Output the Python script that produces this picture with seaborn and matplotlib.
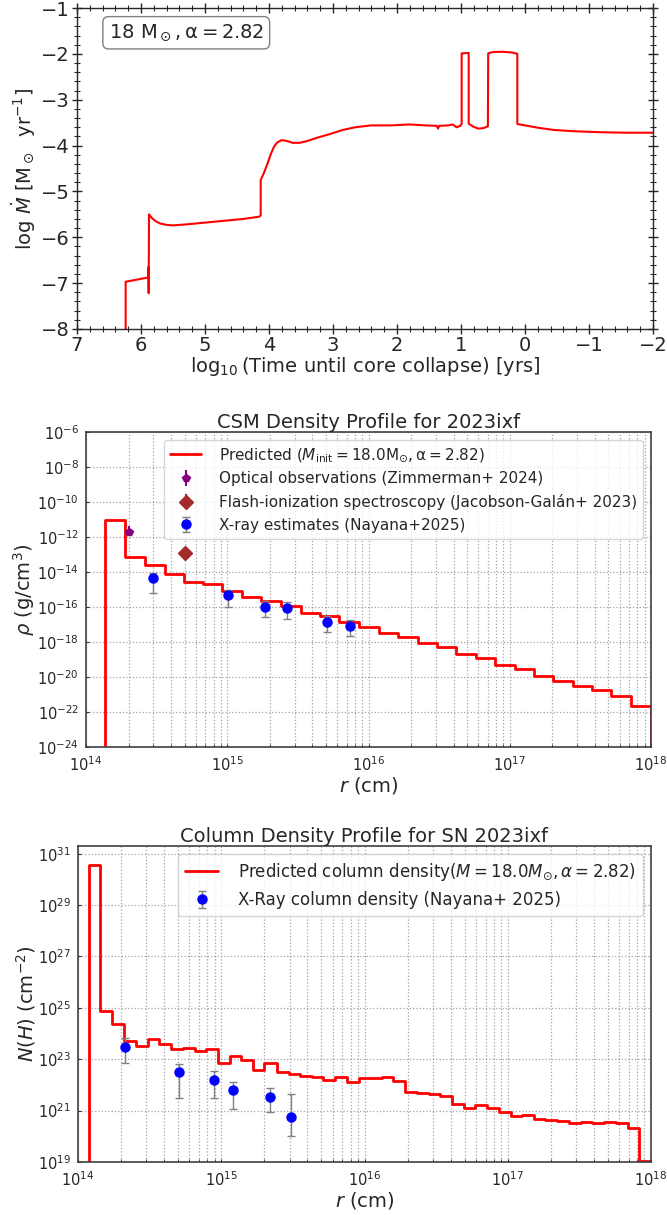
import numpy as np
import pandas as pd
import matplotlib
matplotlib.use("Agg")
import matplotlib.pyplot as plt
import seaborn as sns
from matplotlib.ticker import MultipleLocator, LogLocator, NullLocator, NullFormatter

# ---------------- data: panel 1 (mass-loss history) ----------------
log_t = [6.24, 6.24, 5.90, 5.89, 5.885, 5.88, 5.875, 5.83, 5.77, 5.70, 5.60, 5.50, 5.30,
         5.00, 4.70, 4.40, 4.15, 4.13, 4.13, 4.08, 4.02, 3.97, 3.92, 3.87, 3.80, 3.72,
         3.63, 3.52, 3.40, 3.25, 3.05, 2.85, 2.65, 2.40, 2.10, 1.80, 1.55, 1.38, 1.36,
         1.34, 1.20, 1.13, 1.07, 1.01, 0.99, 0.99, 0.88, 0.88, 0.82, 0.73, 0.65, 0.58,
         0.575, 0.50, 0.35, 0.20, 0.12, 0.12, 0.00, -0.20, -0.45, -0.80, -1.20, -1.60, -2.00]
log_mdot = [-8.5, -6.97, -6.88, -6.88, -6.65, -7.22, -5.50, -5.58, -5.65, -5.70, -5.73, -5.74, -5.72,
            -5.68, -5.64, -5.60, -5.55, -5.52, -4.75, -4.60, -4.38, -4.18, -4.02, -3.93, -3.88, -3.90,
            -3.94, -3.94, -3.90, -3.83, -3.75, -3.66, -3.60, -3.56, -3.56, -3.54, -3.56, -3.57, -3.63,
            -3.57, -3.56, -3.54, -3.60, -3.57, -3.53, -1.99, -1.98, -3.52, -3.58, -3.63, -3.62, -3.58,
            -1.99, -1.96, -1.955, -1.97, -2.00, -3.53, -3.56, -3.61, -3.66, -3.69, -3.71, -3.72, -3.72]

# ---------------- data: panel 2 (CSM density) ----------------
log_r_edges_csm = [14.136, 14.277, 14.419, 14.558, 14.693, 14.829, 14.965, 15.106, 15.242,
                   15.384, 15.519, 15.655, 15.791, 15.935, 16.071, 16.206, 16.348, 16.484,
                   16.620, 16.758, 16.894, 17.035, 17.171, 17.307, 17.448, 17.584, 17.720,
                   17.861, 18.0]
log_rho = [-11.02, -13.17, -13.60, -14.10, -14.57, -14.71, -15.08, -15.43, -15.65, -15.96,
           -16.36, -16.49, -16.84, -17.12, -17.50, -17.70, -18.05, -18.26, -18.68, -18.93,
           -19.29, -19.56, -19.94, -20.24, -20.54, -20.75, -21.06, -21.63]

opt_r = [2.0e14]
opt_rho = [1.82e-12]
opt_err_lo = [0.65e-12]
opt_err_hi = [2.6e-12]

flash_r = [5.0e14]
flash_rho = [1.3e-13]
flash_err_lo = [0.5e-13]
flash_err_hi = [1.3e-13]

xray_r = [3.0e14, 1.01e15, 1.86e15, 2.65e15, 5.05e15, 7.4e15]
xray_rho = [4.5e-15, 4.8e-16, 1.05e-16, 8.3e-17, 1.45e-17, 8.7e-18]
xray_rho_hi = [8.7e-15, 1.0e-15, 2.2e-16, 1.86e-16, 3.1e-17, 1.9e-17]
xray_rho_lo = [6.0e-16, 1.05e-16, 2.6e-17, 2.0e-17, 3.5e-18, 2.1e-18]

# ---------------- data: panel 3 (column density) ----------------
log_r_edges_col = [14.074, 14.157, 14.240, 14.324, 14.407, 14.487, 14.567, 14.647, 14.731,
                   14.814, 14.894, 14.977, 15.060, 15.140, 15.220, 15.300, 15.386, 15.470,
                   15.553, 15.633, 15.713, 15.794, 15.877, 15.960, 16.040, 16.120, 16.200,
                   16.284, 16.367, 16.447, 16.530, 16.610, 16.693, 16.774, 16.857, 16.937,
                   17.020, 17.100, 17.183, 17.263, 17.347, 17.427, 17.510, 17.590, 17.673,
                   17.754, 17.837, 17.917, 18.0]
log_nh = [30.58, 24.86, 24.37, 23.70, 23.50, 23.77, 23.58, 23.38, 23.45, 23.32,
          23.39, 22.86, 23.12, 22.97, 22.58, 22.84, 22.52, 22.43, 22.33, 22.29,
          22.20, 22.29, 22.12, 22.26, 22.26, 22.30, 22.16, 21.71, 21.69, 21.64,
          21.58, 21.24, 21.11, 21.20, 21.10, 20.94, 20.79, 20.84, 20.66, 20.64,
          20.60, 20.50, 20.57, 20.50, 20.55, 20.50, 20.34, 19.04]

nh_r = [2.12e14, 5.06e14, 8.85e14, 1.21e15, 2.18e15, 3.09e15]
nh_val = [3.0e23, 3.1e22, 1.5e22, 6.2e21, 3.4e21, 5.9e20]
nh_hi = [6.6e23, 6.5e22, 3.6e22, 1.35e22, 7.8e21, 4.5e21]
nh_lo = [7.2e22, 3.0e21, 3.0e21, 1.2e21, 8.7e20, 1.0e20]

rho_ticks = [1e-24, 1e-22, 1e-20, 1e-18, 1e-16, 1e-14, 1e-12, 1e-10, 1e-8, 1e-6]
nh_ticks = [1e19, 1e21, 1e23, 1e25, 1e27, 1e29, 1e31]

# ---------------- style ----------------
sns.set_style("ticks")
plt.rcParams["font.family"] = ["DejaVu Sans"]
plt.rcParams["mathtext.fontset"] = "dejavusans"

fig = plt.figure(figsize=(6.67, 12.15), dpi=100)
W, H = 667.0, 1215.0

def add_ax(l, r, t, b):
    return fig.add_axes([l / W, 1 - b / H, (r - l) / W, (b - t) / H])

# ---------------- panel 1 ----------------
ax1 = add_ax(77, 653, 8, 329)
df1 = pd.DataFrame({"t": log_t, "m": log_mdot})
sns.lineplot(data=df1, x="t", y="m", ax=ax1, color="red", lw=1.5,
             estimator=None, sort=False)
ax1.set_xlim(7, -2)
ax1.set_ylim(-8, -1)
ax1.xaxis.set_major_locator(MultipleLocator(1))
ax1.xaxis.set_minor_locator(MultipleLocator(0.2))
ax1.yaxis.set_major_locator(MultipleLocator(1))
ax1.yaxis.set_minor_locator(MultipleLocator(0.2))
ax1.tick_params(which="both", direction="inout", top=True, right=True, labelsize=14, pad=1.5)
ax1.tick_params(which="major", length=7, width=1)
ax1.tick_params(which="minor", length=4, width=0.8)
for s in ax1.spines.values():
    s.set_linewidth(1.0)
ax1.set_xlabel(r"$\log_{10}$(Time until core collapse) [yrs]", fontsize=14, labelpad=0)
ax1.set_ylabel(r"$\log\,\dot{M}\ [\mathrm{M_\odot\ \ yr^{-1}}]$", fontsize=14, labelpad=2)
ax1.text(0.055, 0.955, r"$18\ \mathrm{M_\odot}, \mathrm{\alpha} = 2.82$", transform=ax1.transAxes,
         fontsize=14, va="top", ha="left",
         bbox=dict(boxstyle="round,pad=0.3", facecolor="white", edgecolor="grey"))

# ---------------- helper for stair data ----------------
def stair_frame(log_edges, log_vals, floor):
    xs = [log_edges[0]] + list(log_edges[:-1]) + [log_edges[-1], log_edges[-1]]
    ys = [floor] + list(log_vals) + [log_vals[-1], floor]
    return pd.DataFrame({"r": np.power(10.0, xs), "v": np.power(10.0, ys)})

def style_log_panel(ax, yticks, ylim):
    ax.set_xscale("log")
    ax.set_yscale("log")
    ax.set_xlim(1e14, 1e18)
    ax.set_ylim(*ylim)
    ax.set_yticks(yticks)
    ax.yaxis.set_minor_locator(NullLocator())
    ax.xaxis.set_minor_locator(LogLocator(base=10, subs=np.arange(2, 10)))
    ax.xaxis.set_minor_formatter(NullFormatter())
    ax.grid(True, which="both", linestyle=":", color="0.55", linewidth=0.9, alpha=0.8)
    ax.tick_params(which="both", labelsize=10.5, direction="in", length=2)
    ax.tick_params(axis="x", pad=6)
    ax.tick_params(axis="y", pad=5)
    for s in ax.spines.values():
        s.set_linewidth(1.2)
        s.set_color("0.25")

# ---------------- panel 2 ----------------
ax2 = add_ax(86, 651, 432, 747)
df2 = stair_frame(log_r_edges_csm, log_rho, -30)
style_log_panel(ax2, rho_ticks, (1e-24, 1e-6))
sns.lineplot(data=df2, x="r", y="v", ax=ax2, color="red", lw=2, estimator=None, sort=False,
             drawstyle="steps-post",
             label=r"Predicted ($M_{\rm init} = 18.0 \rm M_{\odot}, \alpha = 2.82$)")
ax2.errorbar(opt_r, opt_rho, yerr=[opt_err_lo, opt_err_hi], fmt="p", color="purple", ms=6,
             label="Optical observations (Zimmerman+ 2024)")
ax2.errorbar(flash_r, flash_rho, yerr=[flash_err_lo, flash_err_hi], fmt="D", color="brown", ms=7,
             label="Flash-ionization spectroscopy (Jacobson-Galán+ 2023)")
xr_lo = [v - l for v, l in zip(xray_rho, xray_rho_lo)]
xr_hi = [h - v for v, h in zip(xray_rho, xray_rho_hi)]
ax2.errorbar(xray_r, xray_rho, yerr=[xr_lo, xr_hi], fmt="o", color="blue", ecolor="gray",
             capsize=3, ms=6.5, elinewidth=1, label="X-ray estimates (Nayana+2025)")
ax2.set_xlim(1e14, 1e18)
ax2.set_ylim(1e-24, 1e-6)
ax2.set_title("CSM Density Profile for 2023ixf", fontsize=14, pad=3)
ax2.set_xlabel(r"$r$ (cm)", fontsize=14, labelpad=1)
ax2.set_ylabel(r"$\rho$ (g/cm$^3$)", fontsize=14, labelpad=0)
ax2.legend(loc="upper right", fontsize=11, handletextpad=1.2)

# ---------------- panel 3 ----------------
ax3 = add_ax(78, 651, 846, 1162)
df3 = stair_frame(log_r_edges_col, log_nh, 10)
style_log_panel(ax3, nh_ticks, (1e19, 2e31))
sns.lineplot(data=df3, x="r", y="v", ax=ax3, color="red", lw=2, estimator=None, sort=False,
             drawstyle="steps-post",
             label=r"Predicted column density($M = 18.0 M_{\odot}, \alpha = 2.82$)")
nh_elo = [v - l for v, l in zip(nh_val, nh_lo)]
nh_ehi = [h - v for v, h in zip(nh_val, nh_hi)]
ax3.errorbar(nh_r, nh_val, yerr=[nh_elo, nh_ehi], fmt="o", color="blue", ecolor="gray",
             capsize=3, ms=6.5, elinewidth=1, label="X-Ray column density (Nayana+ 2025)")
ax3.set_xlim(1e14, 1e18)
ax3.set_ylim(1e19, 2e31)
ax3.set_title("Column Density Profile for SN 2023ixf", fontsize=14, pad=3)
ax3.set_xlabel(r"$r$ (cm)", fontsize=14, labelpad=1)
ax3.set_ylabel(r"$N(H)$ (cm$^{-2}$)", fontsize=14, labelpad=0)
ax3.legend(loc="upper right", fontsize=12, handletextpad=1.2)

fig.savefig("out.png", dpi=100)
